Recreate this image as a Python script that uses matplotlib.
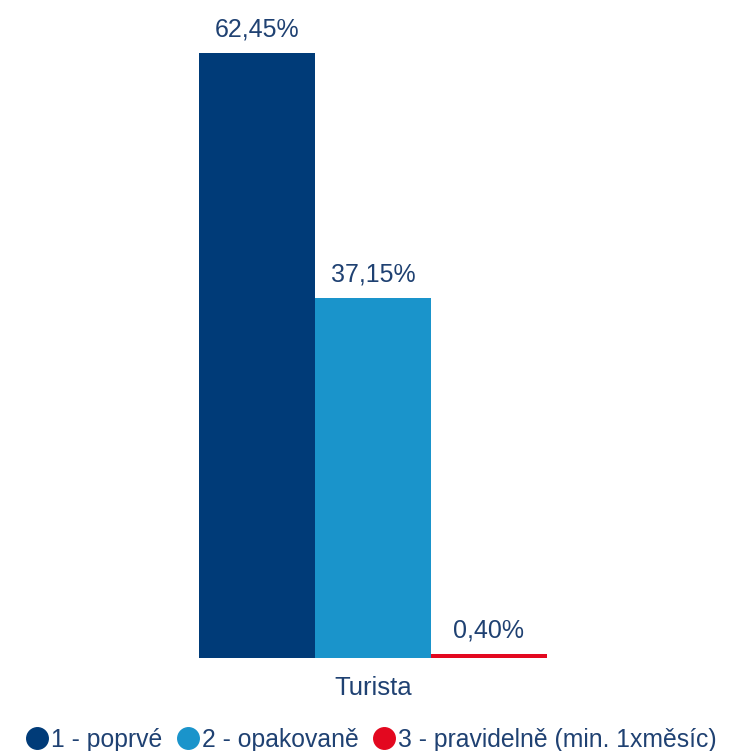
import matplotlib.pyplot as plt
from matplotlib.lines import Line2D

# data
category = "Turista"
series = ["1 - poprvé", "2 - opakovaně", "3 - pravidelně (min. 1xměsíc)"]
values = [62.45, 37.15, 0.40]
labels = ["62,45%", "37,15%", "0,40%"]
colors = ["#003B78", "#1A94CB", "#E3081F"]
text_color = "#1F4172"

plt.rcParams['font.family'] = ['Liberation Sans', 'DejaVu Sans']

fig = plt.figure(figsize=(7.46, 7.51), dpi=100)
ax = fig.add_axes([0, 93 / 751, 1, 658 / 751])

offsets = [-1, 0, 1]
for off, v, lab, c in zip(offsets, values, labels, colors):
    ax.bar(off, v, width=1.0, color=c, align='center')
    ax.text(off, v + 1.2, lab, ha='center', va='bottom', fontsize=18, color=text_color)

ax.set_xlim(-3.216, 3.216)
ax.set_ylim(0, 658 / 9.69)
ax.axis('off')

fig.text(373 / 746, 1 - 688 / 751, category, ha='center', va='center', fontsize=18.5, color=text_color)

handles = [Line2D([], [], marker='o', linestyle='None', markersize=15.5, markerfacecolor=c,
                  markeredgecolor=c) for c in colors]
leg = fig.legend(handles, series, loc='center', bbox_to_anchor=(370 / 746, 1 - 740 / 751),
                 ncol=3, frameon=False, fontsize=17.8, handletextpad=0.0, columnspacing=0.5,
                 handlelength=1.1, labelcolor=text_color)

plt.savefig("out.png", dpi=100)
